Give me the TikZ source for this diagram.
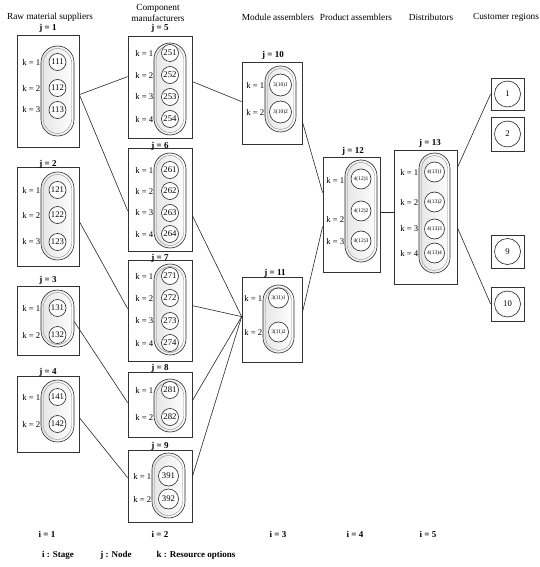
\documentclass[tikz,border=0pt]{standalone}
\usepackage{fontspec}
\setmainfont{Liberation Serif}
\usetikzlibrary{calc,shadows,fit}
\newcommand{\capsl}[5]{%
 \pgfmathsetmacro\cyc{(#3+#4)/2}%
 \pgfmathsetmacro\chh{#4-#3}%
 \pgfmathsetmacro\crr{#5/2}%
 \pgfmathsetmacro\ciw{#5-5}%
 \pgfmathsetmacro\cih{#4-#3-5}%
 \pgfmathsetmacro\cir{(#5-5)/2}%
 \node[capo, minimum width=#5pt, minimum height=\chh pt, rounded corners=\crr pt] (#1) at (#2,\cyc) {};
 \node[capi, minimum width=\ciw pt, minimum height=\cih pt, rounded corners=\cir pt] (#1i) at (#1.center) {};
}
\begin{document}
\begin{tikzpicture}[x=1pt,y=-1pt,
 box/.style={draw=black!80, line width=0.75pt, fill=white, inner sep=0pt,
   drop shadow={shadow xshift=0.9pt, shadow yshift=-0.9pt, fill=black!35, opacity=1}},
 capo/.style={draw=black!85, line width=0.6pt, left color=gray!20, right color=white, inner sep=0pt},
 capi/.style={draw=black!45, line width=0.4pt, inner sep=0pt},
 res/.style={circle, draw=black!85, line width=0.6pt, fill=white, inner sep=0pt, minimum size=17pt, font=\fontsize{8.7}{9}\selectfont},
 ress/.style={res, minimum size=20pt, font=\fontsize{5.5}{6}\selectfont},
 klab/.style={anchor=east, inner sep=0.5pt, font=\fontsize{8.7}{10}\selectfont},
 jlab/.style={anchor=base, inner sep=0pt, font=\bfseries\fontsize{9}{10}\selectfont},
 ttl/.style={font=\fontsize{9.3}{11}\selectfont, align=center, inner sep=0pt},
 stg/.style={font=\bfseries\fontsize{9}{10}\selectfont, inner sep=0pt},
 link/.style={draw=black!85, line width=0.6pt}
]
\useasboundingbox (0,0) rectangle (540,567);

% titles
\node[ttl] (t1) at (50,17) {Raw material suppliers};
\node[ttl] (t2) at (158,12.5) {Component\\manufacturers};
\node[ttl] (t3) at (278,17) {Module assemblers};
\node[ttl] (t4) at (356,17) {Product assemblers};
\node[ttl] (t5) at (431,17) {Distributors};
\node[ttl] (t6) at (506,17) {Customer regions};

% boxes
\node[box, fit={(17,35)(79,147)}] (b1) {};
\node[box, fit={(17,167)(79,266)}] (b2) {};
\node[box, fit={(17,286)(79,355)}] (b3) {};
\node[box, fit={(17,376)(79,452)}] (b4) {};
\node[box, fit={(128,36)(192,138)}] (b5) {};
\node[box, fit={(128,148)(192,251)}] (b6) {};
\node[box, fit={(128,260)(192,361)}] (b7) {};
\node[box, fit={(128,372)(192,437)}] (b8) {};
\node[box, fit={(128,450)(192,522)}] (b9) {};
\node[box, fit={(242,62)(302,144)}] (b10) {};
\node[box, fit={(242,277)(302,362)}] (b11) {};
\node[box, fit={(323,157)(380,272)}] (b12) {};
\node[box, fit={(394,150)(457,284)}] (b13) {};
\node[box, fit={(491,78)(524,110)}] (c1) {};
\node[box, fit={(491,117)(524,151)}] (c2) {};
\node[box, fit={(491,235)(524,268)}] (c9) {};
\node[box, fit={(491,287)(524,321)}] (c10) {};

% j labels
\node[jlab] (j1) at (48,31) {j = 1};
\node[jlab] (j2) at (48,166) {j = 2};
\node[jlab] (j3) at (48,282) {j = 3};
\node[jlab] (j4) at (48,374) {j = 4};
\node[jlab] (j5) at (160,31) {j = 5};
\node[jlab] (j6) at (160,148) {j = 6};
\node[jlab] (j7) at (160,260) {j = 7};
\node[jlab] (j8) at (160,370) {j = 8};
\node[jlab] (j9) at (160,448) {j = 9};
\node[jlab] (j10) at (273,58) {j = 10};
\node[jlab] (j11) at (275,275) {j = 11};
\node[jlab] (j12) at (353,153) {j = 12};
\node[jlab] (j13) at (430,145) {j = 13};

% capsules
\capsl{p1}{57.5}{46}{136}{33}
\capsl{p2}{57.5}{172}{260}{33}
\capsl{p3}{57.5}{290}{347}{33}
\capsl{p4}{57.5}{380}{442}{33}
\capsl{p5}{170}{43}{135}{32}
\capsl{p6}{170}{153}{248}{32}
\capsl{p7}{170}{264}{355}{32}
\capsl{p8}{170}{379}{432}{32}
\capsl{p9}{168.5}{453}{518}{33}
\capsl{p10}{280.5}{66}{132}{31}
\capsl{p11}{278.5}{285}{353}{31}
\capsl{p12}{361}{160}{262}{32}
\capsl{p13}{434.5}{153}{273}{31}

% resources, column 1
\foreach \y/\t/\k in {62/111/1, 88/112/2, 110/113/3}{
  \node[res] (r\t) at (57.5,\y) {\t};
  \node[klab] (k\t) at (41,\y) {k = \k};}
\foreach \y/\t/\k in {190/121/1, 215/122/2, 242/123/3}{
  \node[res] (r\t) at (57.5,\y) {\t};
  \node[klab] (k\t) at (41,\y) {k = \k};}
\foreach \y/\t/\k in {308/131/1, 335/132/2}{
  \node[res] (r\t) at (57.5,\y) {\t};
  \node[klab] (k\t) at (41,\y) {k = \k};}
\foreach \y/\t/\k in {397/141/1, 424/142/2}{
  \node[res] (r\t) at (57.5,\y) {\t};
  \node[klab] (k\t) at (41,\y) {k = \k};}
% column 2
\foreach \y/\t/\k in {53/251/1, 75/252/2, 97/253/3, 119/254/4}{
  \node[res] (r\t) at (170,\y) {\t};
  \node[klab] (k\t) at (154,\y) {k = \k};}
\foreach \y/\t/\k in {170/261/1, 191/262/2, 213/263/3, 234/264/4}{
  \node[res] (r\t) at (170,\y) {\t};
  \node[klab] (k\t) at (154,\y) {k = \k};}
\foreach \y/\t/\k in {276/271/1, 298/272/2, 321/273/3, 343/274/4}{
  \node[res] (r\t) at (170,\y) {\t};
  \node[klab] (k\t) at (154,\y) {k = \k};}
\foreach \y/\t/\k in {390/281/1, 417/282/2}{
  \node[res] (r\t) at (170,\y) {\t};
  \node[klab] (k\t) at (154,\y) {k = \k};}
\foreach \y/\t/\k in {476/391/1, 499/392/2}{
  \node[res, minimum size=20pt] (r\t) at (168.5,\y) {\t};
  \node[klab] (k\t) at (152,\y) {k = \k};}
% column 3
\foreach \y/\t/\k in {85/3(10)1/1, 112/3(10)2/2}{
  \node[ress, minimum size=22pt] (r10\k) at (280.5,\y) {\t};
  \node[klab] (k10\k) at (265,\y) {k = \k};}
\foreach \y/\t/\k in {298/3(11)1/1, 332/3(11)2/2}{
  \node[ress] (r11\k) at (278.5,\y) {\t};
  \node[klab] (k11\k) at (263,\y) {k = \k};}
% column 4
\foreach \y/\t/\k/\ky in {179/4(12)1/1/180, 211/4(12)2/2/219, 241/4(12)3/3/242}{
  \node[ress] (r12\k) at (361,\y) {\t};
  \node[klab] (k12\k) at (345,\ky) {k = \k};}
% column 5
\foreach \y/\t/\k in {172/4(13)1/1, 202/4(13)2/2, 229/4(13)3/3, 253/4(13)4/4}{
  \node[ress] (r13\k) at (434.5,\y) {\t};
  \node[klab] (k13\k) at (419,\y) {k = \k};}
% customers
\node[res, minimum size=26pt] (q1) at (c1.center) {1};
\node[res, minimum size=26pt] (q2) at (c2.center) {2};
\node[res, minimum size=26pt] (q9) at (c9.center) {9};
\node[res, minimum size=26pt] (q10) at (c10.center) {10};

% links
\draw[link] ($(b1.north east)+(0,60)$) -- ($(b5.north west)+(0,41)$);
\draw[link] ($(b1.north east)+(0,60)$) -- ($(b6.north west)+(0,63)$);
\draw[link] ($(b5.north east)+(0,46)$) -- ($(b10.north west)+(0,40)$);
\draw[link] ($(b2.north east)+(0,55)$) -- ($(b7.north west)+(0,49)$);
\draw[link] ($(p3.north east)+(0,32)$) -- ($(b8.north west)+(0,31)$);
\draw[link] ($(b4.north east)+(0,42)$) -- ($(b9.north west)+(0,28)$);
\draw[link] ($(b6.north east)+(0,68)$) -- ($(b11.north west)+(0,40)$);
\draw[link] ($(b7.north east)+(0,46)$) -- ($(b11.north west)+(0,40)$);
\draw[link] ($(b8.north east)+(0,29)$) -- ($(b11.north west)+(0,40)$);
\draw[link] ($(b9.north east)+(0,27)$) -- ($(b11.north west)+(0,40)$);
\draw[link] ($(b10.north east)+(0,60)$) -- ($(b12.north west)+(0,36)$);
\draw[link] ($(b11.north east)+(0,36)$) -- ($(b12.north west)+(0,70)$);
\draw[link] ($(b12.north east)+(0,56)$) -- ($(b13.north west)+(0,63)$);
\draw[link] ($(b13.north east)+(0,18)$) -- (c1.west);
\draw[link] ($(b13.north east)+(0,78)$) -- (c10.west);

% stages and legend
\node[stg] (s1) at (47,534) {i = 1};
\node[stg] (s2) at (160,534) {i = 2};
\node[stg] (s3) at (278,534) {i = 3};
\node[stg] (s4) at (355,534) {i = 4};
\node[stg] (s5) at (428,534) {i = 5};
\node[stg] (l1) at (58,555) {i : Stage};
\node[stg] (l2) at (116,555) {j : Node};
\node[stg] (l3) at (196,555) {k : Resource options};
\end{tikzpicture}
\end{document}
